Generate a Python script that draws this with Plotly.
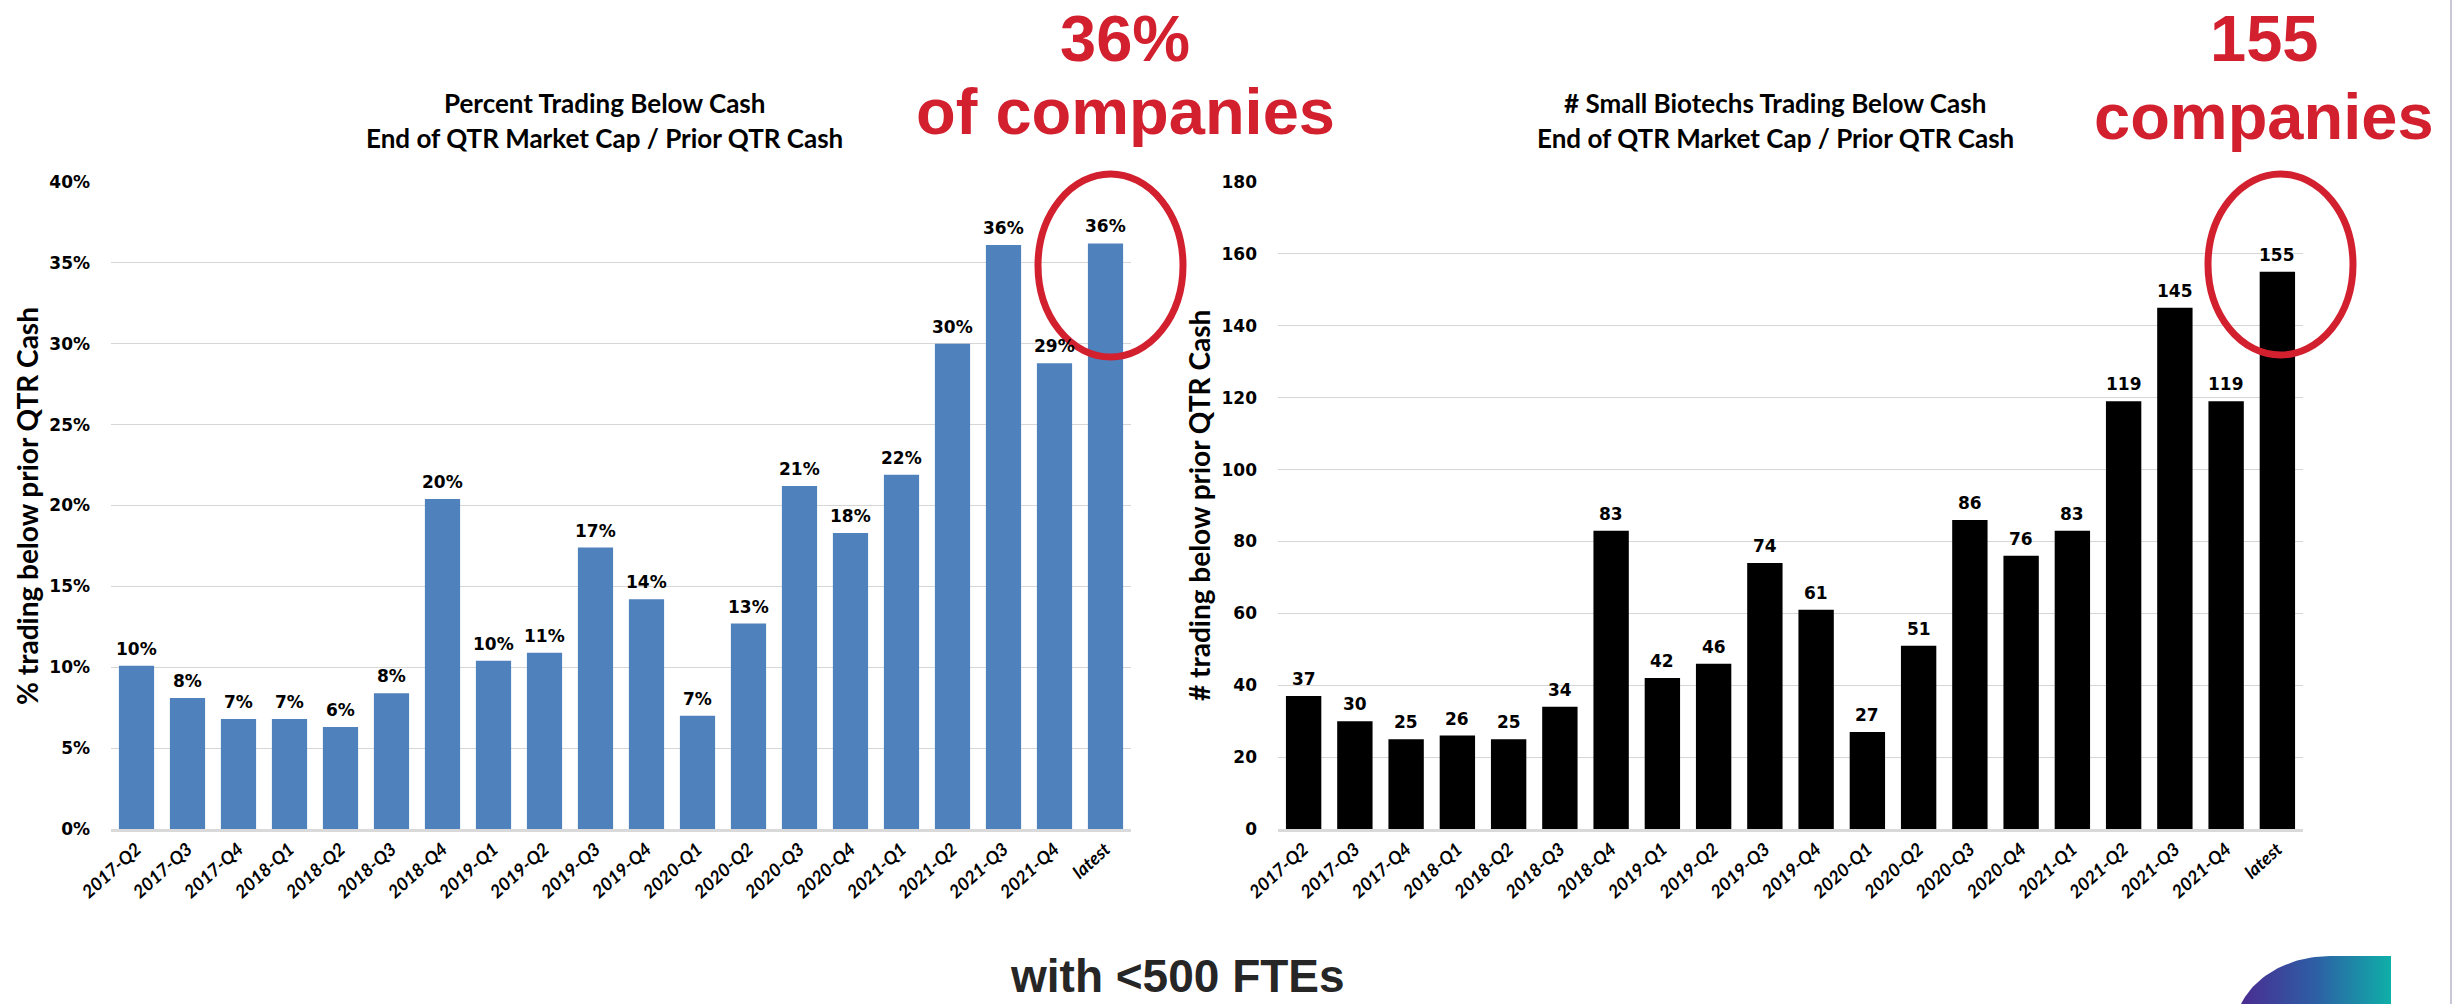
import math
import plotly.graph_objects as go

# ---------------- data ----------------
quarters = ["2017-Q2", "2017-Q3", "2017-Q4", "2018-Q1", "2018-Q2", "2018-Q3", "2018-Q4",
            "2019-Q1", "2019-Q2", "2019-Q3", "2019-Q4", "2020-Q1", "2020-Q2", "2020-Q3",
            "2020-Q4", "2021-Q1", "2021-Q2", "2021-Q3", "2021-Q4", "latest"]
pct_below_cash = [0.101, 0.081, 0.068, 0.068, 0.063, 0.084, 0.204, 0.104, 0.109, 0.174,
                  0.142, 0.070, 0.127, 0.212, 0.183, 0.219, 0.300, 0.361, 0.288, 0.362]
count_below_cash = [37, 30, 25, 26, 25, 34, 83, 42, 46, 74, 61, 27, 51, 86, 76, 83, 119, 145, 119, 155]

left_title = ["Percent Trading Below Cash", "End of QTR Market Cap / Prior QTR Cash"]
right_title = ["# Small Biotechs Trading Below Cash", "End of QTR Market Cap / Prior QTR Cash"]
left_ytitle = "% trading below prior QTR Cash"
right_ytitle = "# trading below prior QTR Cash"
callout_left = ["36%", "of companies"]
callout_right = ["155", "companies"]
footer = "with <500 FTEs"

# ---------------- layout helpers ----------------
W, H = 2454, 1004
def px(x):
    return x / W
def py(y):
    return 1 - y / H

BLUE = "#4F81BD"
RED = "#D2202F"
GRID = "#D6D6D6"
TITLE_FONT = "Lato"
NUM_FONT = "DejaVu Sans"

fig = go.Figure()

fig.add_trace(go.Bar(x=quarters, y=pct_below_cash, marker=dict(color=BLUE, line_width=0),
                     xaxis="x", yaxis="y", hoverinfo="x+y"))
fig.add_trace(go.Bar(x=quarters, y=count_below_cash, marker=dict(color="#000000", line_width=0),
                     xaxis="x2", yaxis="y2", hoverinfo="x+y"))

# value labels
ann = []
for q, v in zip(quarters, pct_below_cash):
    ann.append(dict(x=q, y=v, xref="x", yref="y", text=f"{round(v*100):d}%", showarrow=False,
                    yanchor="bottom", yshift=5,
                    font=dict(family=NUM_FONT, size=17, color="#000000", weight="bold")))
for q, v in zip(quarters, count_below_cash):
    ann.append(dict(x=q, y=v, xref="x2", yref="y2", text=f"{v:d}", showarrow=False,
                    yanchor="bottom", yshift=5,
                    font=dict(family=NUM_FONT, size=17, color="#000000", weight="bold")))

# chart titles
for cx, lines in [(604, left_title), (1775, right_title)]:
    for line, my in zip(lines, [103, 138]):
        ann.append(dict(x=px(cx), y=py(my), xref="paper", yref="paper", text=line,
                        showarrow=False, xanchor="center", yanchor="middle",
                        font=dict(family=TITLE_FONT, size=26, color="#000000", weight="bold")))

# y axis titles
for cx, t in [(27, left_ytitle), (1199, right_ytitle)]:
    ann.append(dict(x=px(cx), y=py(506), xref="paper", yref="paper", text=t, textangle=-90,
                    showarrow=False, xanchor="center", yanchor="middle",
                    font=dict(family=TITLE_FONT, size=28, color="#000000", weight="bold")))

# red callouts (first line anchored to the top edge, second line below)
redfont = dict(family="Liberation Sans", size=65, color=RED, weight="bold")
for cx, lines, second_mid in [(1125, callout_left, 111), (2264, callout_right, 116)]:
    ann.append(dict(x=px(cx), y=1, xref="paper", yref="paper", text=lines[0],
                    showarrow=False, xanchor="center", yanchor="top", font=redfont))
    ann.append(dict(x=px(cx), y=py(second_mid), xref="paper", yref="paper", text=lines[1],
                    showarrow=False, xanchor="center", yanchor="middle", font=redfont))

# footer
ann.append(dict(x=px(1177), y=0, xref="paper", yref="paper", text=footer,
                showarrow=False, xanchor="center", yanchor="bottom",
                font=dict(family="Liberation Sans", size=46, color="#262626", weight="bold")))

shapes = [
    dict(type="circle", xref="paper", yref="paper", x0=px(1038), x1=px(1183), y0=py(357), y1=py(174),
         line=dict(color=RED, width=7)),
    dict(type="circle", xref="paper", yref="paper", x0=px(2208), x1=px(2353), y0=py(355), y1=py(174),
         line=dict(color=RED, width=7)),
    dict(type="line", xref="paper", yref="paper", x0=px(2451), x1=px(2451), y0=0, y1=1,
         line=dict(color="#C9C6D6", width=2)),
]

# decorative logo corner (gradient) on an overlay axis in pixel units
cxl, cyl, rx, ry = 2330, 1030, 95, 74
n = 40
lx = [2391, 2391]
ly = [1004, 956]
for k in range(n + 1):
    a = math.pi / 2 + (math.pi / 2) * k / n
    x = cxl + rx * math.cos(a)
    y = cyl - ry * math.sin(a)
    if y <= 1004:
        lx.append(x); ly.append(y)
lx += [2241, 2391]
ly += [1004, 1004]
fig.add_trace(go.Scatter(x=lx, y=ly, xaxis="x3", yaxis="y3", mode="lines", line=dict(width=0),
                         fill="toself",
                         fillgradient=dict(type="horizontal",
                                           colorscale=[[0, "#4A2C91"], [0.5, "#2D5FA5"], [1, "#0FAFA8"]]),
                         hoverinfo="skip"))

xtickfont = dict(family=TITLE_FONT, size=18, color="#000000", weight="bold", style="italic")
ytickfont = dict(family=NUM_FONT, size=17, color="#000000", weight="bold")

fig.update_layout(
    width=W, height=H,
    margin=dict(l=0, r=0, t=0, b=0, autoexpand=False),
    paper_bgcolor="white", plot_bgcolor="rgba(0,0,0,0)",
    showlegend=False,
    bargap=0.31,
    annotations=ann,
    shapes=shapes,
    xaxis=dict(domain=[px(111), px(1131)], type="category", showgrid=False, showline=True,
               linecolor="#D9D9D9", linewidth=2.5, tickangle=-42, ticks="", automargin=False,
               tickfont=xtickfont, anchor="y", fixedrange=True),
    yaxis=dict(domain=[py(829), py(182)], range=[0, 0.40], dtick=0.05, tickformat=".0%",
               showgrid=True, gridcolor=GRID, gridwidth=1.3, zeroline=False, showline=False,
               ticklabelstandoff=20, automargin=False,
               tickfont=ytickfont, anchor="x", fixedrange=True),
    xaxis2=dict(domain=[px(1278), px(2303)], type="category", showgrid=False, showline=True,
                linecolor="#D9D9D9", linewidth=2.5, tickangle=-42, ticks="", automargin=False,
                tickfont=xtickfont, anchor="y2", fixedrange=True),
    yaxis2=dict(domain=[py(829), py(182)], range=[0, 180], dtick=20,
                showgrid=True, gridcolor=GRID, gridwidth=1.3, zeroline=False, showline=False,
                ticklabelstandoff=20, automargin=False,
                tickfont=ytickfont, anchor="x2", fixedrange=True),
    xaxis3=dict(domain=[0, 1], range=[0, W], visible=False, anchor="y3", fixedrange=True,
                automargin=False),
    yaxis3=dict(domain=[0, 1], range=[H, 0], visible=False, anchor="x3", fixedrange=True,
                automargin=False),
)

fig.write_html("out.html", config={"displayModeBar": False},
               post_script="document.body.style.margin='0';document.body.style.overflow='hidden';")
